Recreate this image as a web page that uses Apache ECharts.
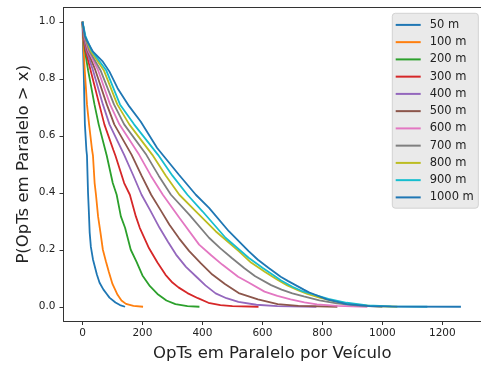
<!DOCTYPE html>
<html>
<head>
<meta charset="utf-8">
<script src="https://cdn.jsdelivr.net/npm/echarts@6/dist/echarts.min.js"></script>
<style>
  html, body { margin: 0; padding: 0; background: #fff; }
  #chart { width: 481px; height: 367px; }
</style>
</head>
<body>
<div id="chart"></div>
<script>
// nomes das séries (distância)
const seriesNames = ['50 m', '100 m', '200 m', '300 m', '400 m', '500 m', '600 m', '700 m', '800 m', '900 m', '1000 m']
const seriesColors = ['#1f77b4', '#ff7f0e', '#2ca02c', '#d62728', '#9467bd', '#8c564b', '#e377c2', '#7f7f7f', '#bcbd22', '#17becf', '#1f77b4']

const xTicks = [0, 200, 400, 600, 800, 1000, 1200]
const yTicks = [0, 0.2, 0.4, 0.6, 0.8, 1.0]

// pontos [x, P(X > x)]
const s50 = [[0, 1], [1, 0.95], [2, 0.9], [4, 0.83], [6.5, 0.71], [8, 0.64], [13, 0.55], [15, 0.53], [18.5, 0.4], [21, 0.34], [24, 0.26], [28, 0.21], [35, 0.166], [48, 0.113], [57, 0.084], [70, 0.06], [81, 0.045], [90, 0.032], [110, 0.015], [125, 0.006], [142, 0]]
const s100 = [[0, 1], [2, 0.95], [4, 0.9], [7.6, 0.83], [15, 0.71], [22, 0.64], [32, 0.55], [35, 0.53], [40.5, 0.434], [45, 0.393], [52, 0.317], [60, 0.26], [68, 0.2], [78, 0.16], [88, 0.122], [100, 0.08], [117, 0.042], [130, 0.022], [145, 0.01], [170, 0.003], [202, 0]]
const s200 = [[0, 1], [3, 0.95], [8, 0.9], [18.6, 0.83], [40, 0.71], [54, 0.64], [76, 0.55], [81, 0.53], [101, 0.434], [114, 0.393], [128, 0.317], [142, 0.277], [161, 0.2], [180, 0.158], [200, 0.11], [225, 0.072], [250, 0.045], [280, 0.022], [310, 0.009], [350, 0.002], [390, 0]]
const s300 = [[0, 1], [3, 0.95], [10, 0.9], [27, 0.83], [56, 0.71], [73, 0.64], [103, 0.55], [110, 0.53], [139, 0.434], [158, 0.393], [178, 0.317], [191, 0.277], [222, 0.205], [250, 0.155], [277, 0.112], [300, 0.085], [320, 0.068], [350, 0.048], [385, 0.03], [420, 0.014], [460, 0.006], [500, 0.002], [587, 0]]
const s400 = [[0, 1], [4, 0.95], [13, 0.9], [35, 0.83], [68, 0.71], [90, 0.64], [139, 0.533], [168, 0.464], [197, 0.393], [225, 0.34], [257, 0.277], [285, 0.228], [312, 0.183], [345, 0.14], [378, 0.107], [410, 0.075], [444, 0.047], [480, 0.03], [520, 0.017], [580, 0.007], [650, 0.002], [780, 0]]
const s500 = [[0, 1], [5, 0.95], [16, 0.9], [43, 0.83], [81, 0.71], [106, 0.64], [164, 0.533], [197, 0.46], [229, 0.393], [260, 0.34], [290, 0.288], [322, 0.24], [356, 0.195], [395, 0.152], [433, 0.113], [475, 0.08], [521, 0.048], [585, 0.026], [651, 0.009], [720, 0.003], [850, 0]]
const s600 = [[0, 1], [6, 0.95], [19, 0.9], [52, 0.83], [92, 0.71], [123, 0.64], [189, 0.533], [228, 0.46], [268, 0.393], [323, 0.312], [389, 0.218], [430, 0.18], [466, 0.148], [519, 0.105], [554, 0.085], [607, 0.053], [650, 0.038], [694, 0.026], [740, 0.015], [782, 0.008], [850, 0.003], [950, 0]]
const s700 = [[0, 1], [7, 0.95], [22, 0.9], [60, 0.83], [105, 0.71], [139, 0.64], [213, 0.533], [254, 0.46], [295, 0.393], [356, 0.323], [422, 0.242], [460, 0.205], [499, 0.17], [540, 0.135], [576, 0.107], [629, 0.076], [664, 0.06], [700, 0.047], [738, 0.036], [790, 0.022], [848, 0.012], [920, 0.004], [1000, 0]]
const s800 = [[0, 1], [8, 0.95], [26, 0.9], [71, 0.83], [116, 0.71], [156, 0.64], [233, 0.533], [278, 0.46], [323, 0.393], [378, 0.335], [444, 0.265], [521, 0.195], [562, 0.155], [609, 0.122], [650, 0.095], [683, 0.075], [720, 0.057], [750, 0.045], [793, 0.031], [850, 0.017], [903, 0.008], [970, 0.002], [1050, 0]]
const s900 = [[0, 1], [10, 0.95], [30, 0.9], [79, 0.83], [125, 0.71], [172, 0.64], [252, 0.533], [300, 0.46], [350, 0.393], [400, 0.335], [477, 0.242], [554, 0.172], [600, 0.137], [642, 0.107], [661, 0.093], [700, 0.07], [730, 0.056], [771, 0.043], [820, 0.028], [881, 0.014], [950, 0.005], [1030, 0.001], [1150, 0]]
const s1000 = [[0, 1], [8, 0.95], [13, 0.937], [35, 0.895], [68, 0.86], [90, 0.825], [117, 0.767], [156, 0.703], [194, 0.65], [249, 0.557], [321, 0.464], [378, 0.393], [422, 0.347], [488, 0.265], [554, 0.195], [585, 0.165], [620, 0.137], [661, 0.105], [686, 0.09], [738, 0.06], [757, 0.05], [815, 0.026], [881, 0.009], [958, 0.002], [1050, 0.0005], [1262, 0]]

const allData = [s50, s100, s200, s300, s400, s500, s600, s700, s800, s900, s1000]

const chart = echarts.init(document.getElementById('chart'), null, { renderer: 'canvas' })

const axisColor = '#333'
const font = 'DejaVu Sans'

const series = seriesNames.map((name, i) => ({
  name: name,
  type: 'line',
  data: allData[i],
  showSymbol: false,
  symbol: 'none',
  smooth: false,
  silent: true,
  z: 2 + i,
  lineStyle: { color: seriesColors[i], width: 1.8 },
  itemStyle: { color: seriesColors[i] }
}))

const option = {
  animation: false,
  backgroundColor: '#fff',
  grid: {
    left: 63.5,
    top: 7.5,
    width: 422.3,
    height: 314.1,
    containLabel: false
  },
  legend: {
    orient: 'vertical',
    left: 392.3,
    top: 13.3,
    icon: 'rect',
    itemWidth: 25,
    itemHeight: 2,
    itemGap: 5.25,
    padding: [5.6, 4.5, 4.8, 3.4],
    backgroundColor: '#eaeaea',
    borderColor: '#d2d2d2',
    borderWidth: 1,
    borderRadius: 3,
    textStyle: {
      fontFamily: font,
      fontSize: 11.5,
      color: '#222',
      padding: [0, 0, 0, 4]
    },
    data: seriesNames
  },
  xAxis: [
    {
      type: 'value',
      min: -63.3,
      max: 1329,
      position: 'bottom',
      name: 'OpTs em Paralelo por Veículo',
      nameLocation: 'middle',
      nameGap: 24,
      nameMoveOverlap: false,
      nameTextStyle: { fontFamily: font, fontSize: 16.5, color: '#222' },
      axisLine: { show: true, onZero: false, lineStyle: { color: axisColor, width: 1 } },
      axisTick: { show: true, length: 4, customValues: xTicks, lineStyle: { color: axisColor } },
      axisLabel: {
        customValues: xTicks,
        margin: 7,
        fontFamily: font,
        fontSize: 10.5,
        color: '#222',
        formatter: (v) => String(v)
      },
      splitLine: { show: false }
    },
    {
      type: 'value',
      min: -63.3,
      max: 1329,
      position: 'top',
      axisLine: { show: true, onZero: false, lineStyle: { color: axisColor, width: 1 } },
      axisTick: { show: false },
      axisLabel: { show: false },
      splitLine: { show: false }
    }
  ],
  yAxis: {
    type: 'value',
    min: -0.05,
    max: 1.05,
    name: 'P(OpTs em Paralelo > x)',
    nameLocation: 'middle',
    nameGap: 31,
    nameMoveOverlap: false,
    nameTextStyle: { fontFamily: font, fontSize: 16.5, color: '#222' },
    axisLine: { show: true, onZero: false, lineStyle: { color: axisColor, width: 1 } },
    axisTick: { show: true, length: 4, customValues: yTicks, lineStyle: { color: axisColor } },
    axisLabel: {
      customValues: yTicks,
      margin: 8,
      fontFamily: font,
      fontSize: 10.5,
      color: '#222',
      formatter: (v) => v.toFixed(1)
    },
    splitLine: { show: false }
  },
  series: series
}

chart.setOption(option)
</script>
</body>
</html>
